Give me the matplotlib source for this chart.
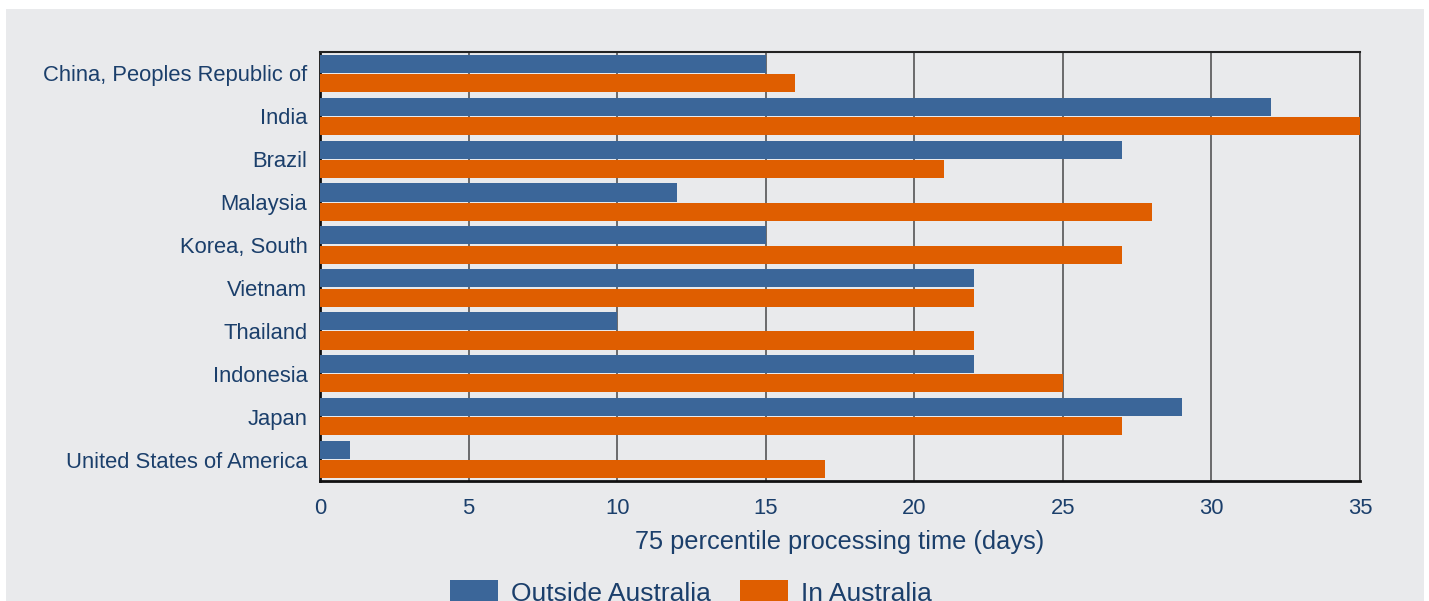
import numpy as np
import matplotlib.pyplot as plt
from matplotlib.patches import Rectangle

plt.rcParams['font.family'] = ['Liberation Sans', 'DejaVu Sans']

# data
countries = ["China, Peoples Republic of", "India", "Brazil", "Malaysia", "Korea, South",
             "Vietnam", "Thailand", "Indonesia", "Japan", "United States of America"]
outside_australia = [15, 32, 27, 12, 15, 22, 10, 22, 29, 1]
in_australia = [16, 35, 21, 28, 27, 22, 22, 25, 27, 17]
x_ticks = [0, 5, 10, 15, 20, 25, 30, 35]

blue = '#3B6699'
orange = '#DF5E00'
text_col = '#1B3F6B'
bg = '#E9EAEC'

fig = plt.figure(figsize=(14.29, 6.01), dpi=100)
fig.patch.set_facecolor('white')
# grey panel behind the chart
fig.patches.append(Rectangle((6 / 1429, 0), (1424 - 6) / 1429, 1 - 9 / 601,
                             transform=fig.transFigure, facecolor=bg,
                             edgecolor='none', zorder=-10))

ax = fig.add_axes([320 / 1429, 1 - 481 / 601, (1360 - 320) / 1429, (481 - 52) / 601])
ax.set_facecolor(bg)

y = np.arange(len(countries))
ax.barh(y - 0.225, outside_australia, height=0.42, color=blue, label='Outside Australia', zorder=3)
ax.barh(y + 0.225, in_australia, height=0.42, color=orange, label='In Australia', zorder=3)

ax.set_ylim(9.5, -0.5)
ax.set_xlim(0, 35)
ax.set_xticks(x_ticks)
ax.set_yticks(y)
ax.set_yticklabels(countries)
ax.tick_params(axis='both', length=0, labelsize=15.8, labelcolor=text_col)
ax.tick_params(axis='y', pad=9)
ax.tick_params(axis='x', pad=12)

ax.grid(axis='x', color='#555555', linewidth=1.2, zorder=1)
ax.set_axisbelow(True)
for s in ['left', 'bottom']:
    ax.spines[s].set_color('#111111')
    ax.spines[s].set_linewidth(2)
ax.spines['top'].set_color('#222222')
ax.spines['top'].set_linewidth(1.5)
ax.spines['right'].set_color('#444444')
ax.spines['right'].set_linewidth(1.2)

ax.set_xlabel("75 percentile processing time (days)", fontsize=18.3, color=text_col, labelpad=8)

fig.legend(loc='center', bbox_to_anchor=(691 / 1429, 1 - 593 / 601), ncol=2, frameon=False,
           fontsize=19, labelcolor=text_col, handlelength=1.8, handleheight=0.9,
           handletextpad=0.5, columnspacing=1.1)

fig.savefig('out.png', dpi=100, facecolor=fig.get_facecolor())
